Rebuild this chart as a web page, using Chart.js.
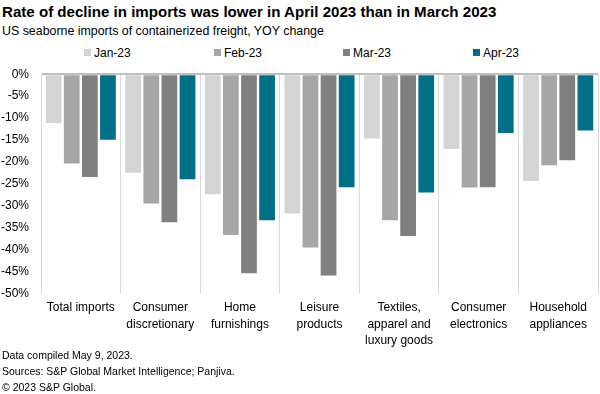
<!DOCTYPE html>
<html lang="en">
<head>
    <meta charset="UTF-8">
    <title>Rate of decline in imports</title>
    <script src="https://cdn.jsdelivr.net/npm/chart.js"></script>
    <style>
        body {
            margin: 0;
            width: 600px;
            height: 394px;
            background: #fff;
            font-family: "Liberation Sans", Arial, sans-serif;
            color: #000;
            position: relative;
            overflow: hidden;
        }
        .title {
            position: absolute;
            left: 2px;
            top: 3px;
            font-size: 15.1px;
            font-weight: bold;
            white-space: nowrap;
        }
        .subtitle {
            position: absolute;
            left: 2px;
            top: 24px;
            font-size: 12.4px;
            white-space: nowrap;
        }
        #legend {
            position: absolute;
            top: 46px;
            left: 0;
            width: 600px;
            height: 16px;
            font-size: 12px;
        }
        #legend span.item {
            position: absolute;
            white-space: nowrap;
        }
        #legend span.box {
            display: inline-block;
            width: 7px;
            height: 7px;
            margin-right: 3px;
            vertical-align: 1px;
        }
        .chart-box {
            position: absolute;
            left: 0;
            top: 55px;
            width: 600px;
            height: 300px;
        }
        .footer {
            position: absolute;
            left: 2px;
            top: 347px;
            font-size: 10.5px;
            line-height: 16px;
        }
    </style>
</head>
<body>
    <div class="title">Rate of decline in imports was lower in April 2023 than in March 2023</div>
    <div class="subtitle">US seaborne imports of containerized freight, YOY change</div>
    <div id="legend"></div>
    <div class="chart-box">
        <canvas id="importsChart"></canvas>
    </div>
    <div class="footer">
        Data compiled May 9, 2023.<br>
        Sources: S&amp;P Global Market Intelligence; Panjiva.<br>
        &copy; 2023 S&amp;P Global.
    </div>

    <script>
        const categories = [
            ['Total imports'],
            ['Consumer', 'discretionary'],
            ['Home', 'furnishings'],
            ['Leisure', 'products'],
            ['Textiles,', 'apparel and', 'luxury goods'],
            ['Consumer', 'electronics'],
            ['Household', 'appliances']
        ];
        const seriesNames = ['Jan-23', 'Feb-23', 'Mar-23', 'Apr-23'];
        const jan23 = [-11.1, -22.4, -27.3, -31.7, -14.6, -17.0, -24.3];
        const feb23 = [-20.3, -29.4, -36.6, -39.4, -33.2, -25.8, -20.7];
        const mar23 = [-23.4, -33.7, -45.3, -45.8, -36.8, -25.7, -19.6];
        const apr23 = [-14.9, -23.9, -33.2, -25.7, -26.9, -13.4, -12.8];
        const colors = ['#d4d4d4', '#a6a6a6', '#808080', '#007089'];
        const legendX = [84, 214, 343, 473];

        const allSeries = [jan23, feb23, mar23, apr23];

        // legend drawn as html so spacing matches the original
        const legend = document.getElementById('legend');
        seriesNames.forEach((name, i) => {
            const item = document.createElement('span');
            item.className = 'item';
            item.style.left = legendX[i] + 'px';
            item.innerHTML = '<span class="box" style="background:' + colors[i] + '"></span>' + name;
            legend.appendChild(item);
        });

        const ctx = document.getElementById('importsChart').getContext('2d');
        new Chart(ctx, {
            type: 'bar',
            data: {
                labels: categories,
                datasets: allSeries.map((vals, i) => ({
                    label: seriesNames[i],
                    data: vals,
                    backgroundColor: colors[i],
                    borderWidth: 0
                }))
            },
            options: {
                responsive: true,
                maintainAspectRatio: false,
                animation: false,
                datasets: {
                    bar: {
                        categoryPercentage: 0.91,
                        barPercentage: 0.87
                    }
                },
                layout: {
                    padding: { top: 10, right: 2, left: 0, bottom: 0 }
                },
                plugins: {
                    legend: { display: false },
                    tooltip: { enabled: false }
                },
                scales: {
                    x: {
                        grid: {
                            offset: true,
                            color: '#d9d9d9',
                            lineWidth: 1,
                            drawTicks: false
                        },
                        border: { display: false },
                        ticks: {
                            color: '#000',
                            padding: 6,
                            maxRotation: 0,
                            autoSkip: false,
                            font: { family: '"Liberation Sans", Arial', size: 12, lineHeight: 1.35 }
                        },
                        afterFit: scale => { scale.height = 61; }
                    },
                    y: {
                        min: -50,
                        max: 0,
                        ticks: {
                            stepSize: 5,
                            color: '#000',
                            padding: 12,
                            font: { family: '"Liberation Sans", Arial', size: 12 },
                            callback: v => v + '%'
                        },
                        grid: {
                            drawTicks: false,
                            color: c => c.tick && c.tick.value === 0 ? '#bfbfbf' : 'rgba(0,0,0,0)',
                            lineWidth: c => c.tick && c.tick.value === 0 ? 2 : 0
                        },
                        border: { display: true, color: '#d9d9d9', width: 1 },
                        afterFit: scale => { scale.width = 41; }
                    }
                }
            }
        });
    </script>
</body>
</html>
